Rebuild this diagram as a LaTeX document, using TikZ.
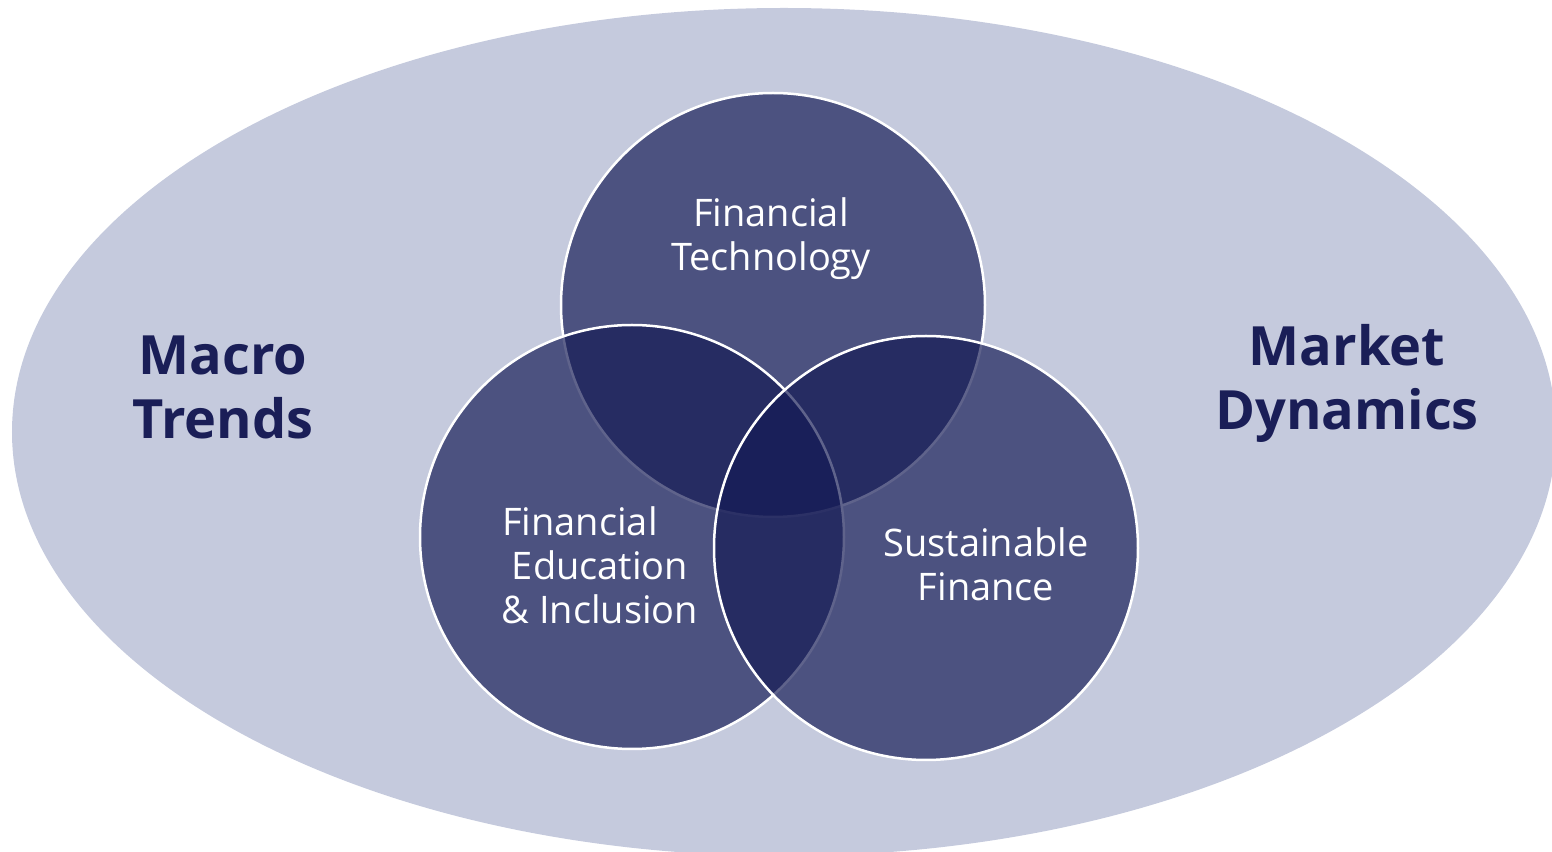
\documentclass[tikz,border=0pt]{standalone}
\usepackage{fontspec}
\setmainfont{Open Sans}
\usepackage{tikz}
\definecolor{outerfill}{HTML}{C5CADD}
\definecolor{navy}{HTML}{141A55}
\definecolor{headtext}{HTML}{1A1E57}

\begin{document}
\begin{tikzpicture}[
		venn/.style={fill=navy,fill opacity=0.68,draw=white,line width=0.025cm},
		inner label/.style={text=white,align=center,font=\fontsize{10.8}{12.5}\selectfont},
		outer label/.style={text=headtext,align=center,font=\fontsize{15.4}{18.2}\selectfont\bfseries}
	]
				\useasboundingbox (0,0) rectangle (15.52,-8.52);
				\begin{scope}
				\clip (0,0) rectangle (15.52,-8.52);
				\fill[outerfill] (7.84,-4.32) ellipse(7.72 and 4.24);
				\end{scope}
				% the three topics
				\draw[venn] (7.73,-3.05) circle(2.12);
				\draw[venn] (6.32,-5.37) circle(2.12);
				\draw[venn] (9.26,-5.48) circle(2.12);
				\node[inner label] (fintech) at (7.71,-2.39) {Financial\\Technology};
				\node[inner label] (education) at (6.00,-5.65) {Financial\hspace*{0.4cm}\\Education\\\& Inclusion};
				\node[inner label] (sustainable) at (9.86,-5.64) {Sustainable\\Finance};
				% the surrounding forces
				\node[outer label] (macro) at (2.23,-3.87) {Macro\\Trends};
				\node[outer label] (market) at (13.47,-3.83) {Market\\Dynamics};
			\end{tikzpicture}
\end{document}
